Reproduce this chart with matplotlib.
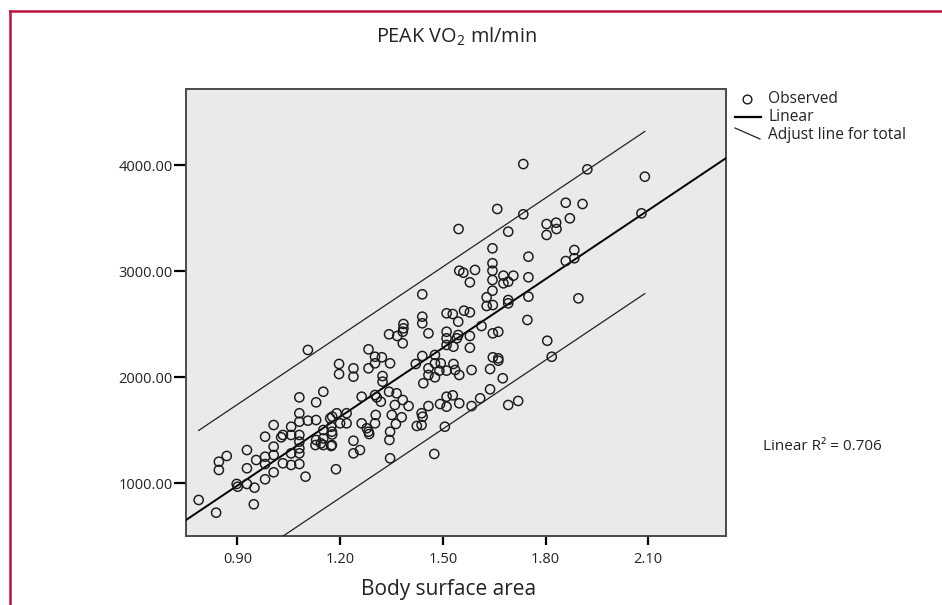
import matplotlib
matplotlib.use("Agg")
import matplotlib.pyplot as plt
from matplotlib.lines import Line2D
import numpy as np

plt.rcParams['font.family'] = ['Open Sans', 'DejaVu Sans']

# body surface area (m2) and peak VO2 (ml/min)
bsa = [
    1.106, 1.151, 1.081, 1.130, 1.081, 1.006, 1.057, 1.106, 1.130, 1.081,
    1.177, 1.033, 1.028, 0.981, 1.057, 1.081, 1.081, 1.081, 1.130, 1.151,
    1.174, 1.177, 1.144, 1.151, 1.174, 1.128, 1.006, 0.928, 0.869, 0.846,
    0.846, 0.955, 0.981, 1.006, 0.981, 1.033, 1.057, 1.081, 1.057, 1.081,
    0.928, 1.006, 0.981, 1.099, 0.898, 0.901, 0.928, 0.950, 0.948, 0.787,
    0.838, 1.188,
    1.548, 1.560, 1.594, 1.579, 1.440, 1.511, 1.529, 1.562, 1.579, 1.545,
    1.440, 1.440, 1.385, 1.385, 1.383, 1.343, 1.367, 1.383, 1.458, 1.511,
    1.511, 1.545, 1.541, 1.579, 1.531, 1.511, 1.579, 1.283, 1.302, 1.322,
    1.302, 1.346, 1.283, 1.197, 1.197, 1.239, 1.239, 1.324, 1.324, 1.440,
    1.421, 1.477, 1.458, 1.477, 1.494, 1.531, 1.458, 1.477, 1.490, 1.511,
    1.536, 1.548, 1.443, 1.263, 1.302, 1.307, 1.319, 1.343, 1.365, 1.383,
    1.400, 1.360, 1.351, 1.380, 1.363, 1.458, 1.438, 1.441, 1.492, 1.511,
    1.511, 1.529, 1.548, 1.424, 1.438, 1.506, 1.475, 1.346, 1.344, 1.346,
    1.304, 1.302, 1.278, 1.283, 1.285, 1.263, 1.239, 1.239, 1.258, 1.219,
    1.190, 1.171, 1.200, 1.219, 1.176, 1.151, 1.176,
    1.735, 1.922, 1.659, 1.546, 1.735, 1.859, 1.908, 2.080, 1.871, 1.803,
    1.831, 1.832, 1.803, 1.691, 1.645, 1.750, 1.884, 1.884, 1.859, 1.645,
    1.645, 1.645, 1.645, 1.677, 1.706, 1.677, 1.691, 1.750, 1.628, 1.691,
    1.750, 1.896,
    1.691, 1.628, 1.646, 1.747, 1.613, 1.646, 1.662, 1.805, 1.818, 1.646,
    1.662, 1.662, 1.638, 1.584, 1.675, 1.638, 1.609, 1.584, 1.691, 1.720,
    2.090,
]
vo2 = [
    2255, 1861, 1808, 1761, 1658, 1547, 1531, 1588, 1594, 1578,
    1626, 1453, 1431, 1437, 1453, 1453, 1390, 1327, 1406, 1500,
    1531, 1458, 1374, 1358, 1349, 1358, 1343, 1311, 1255, 1201,
    1123, 1217, 1248, 1264, 1179, 1186, 1170, 1179, 1280, 1280,
    1139, 1101, 1035, 1060, 991, 965, 991, 956, 799, 840,
    720, 1130,
    3003, 2984, 3010, 2893, 2780, 2601, 2594, 2626, 2610, 2522,
    2569, 2507, 2500, 2459, 2427, 2403, 2387, 2318, 2412, 2427,
    2365, 2396, 2365, 2387, 2286, 2302, 2276, 2261, 2191, 2186,
    2129, 2129, 2082, 2123, 2028, 2082, 2003, 2009, 1956, 2198,
    2123, 2208, 2082, 2129, 2129, 2123, 2019, 1997, 2060, 2060,
    2066, 2019, 1941, 1814, 1830, 1808, 1767, 1861, 1846, 1783,
    1726, 1736, 1642, 1620, 1557, 1726, 1658, 1625, 1745, 1720,
    1814, 1827, 1752, 1538, 1547, 1531, 1274, 1484, 1406, 1233,
    1642, 1563, 1516, 1484, 1462, 1563, 1399, 1280, 1311, 1658,
    1658, 1610, 1563, 1563, 1484, 1420, 1358,
    4009, 3959, 3585, 3396, 3535, 3644, 3632, 3544, 3497, 3443,
    3456, 3396, 3340, 3371, 3214, 3135, 3198, 3120, 3094, 3073,
    3003, 2915, 2814, 2956, 2956, 2884, 2899, 2941, 2752, 2726,
    2758, 2742,
    2695, 2670, 2679, 2538, 2481, 2412, 2427, 2342, 2191, 2186,
    2176, 2154, 2075, 2066, 1988, 1884, 1799, 1726, 1736, 1774,
    3890,
]

# fitted line and the band drawn either side of it
fit_intercept = -973
fit_slope = 2165
band = 765
r2_text = "Linear R\u00b2 = 0.706"

x_ticks = [0.90, 1.20, 1.50, 1.80, 2.10]
y_ticks = [1000, 2000, 3000, 4000]

bsa = np.array(bsa)
vo2 = np.array(vo2)

W, H = 942, 605
fig = plt.figure(figsize=(W / 100, H / 100), dpi=100)
ax = fig.add_axes([186 / W, 1 - 536 / H, 540 / W, 447 / H])
ax.set_facecolor('#e9eaec')

xlim = (0.75, 2.327)
ax.set_xlim(*xlim)
ax.set_ylim(500, 4717)

xs = np.array(xlim)
ax.plot(xs, fit_intercept + fit_slope * xs, color='black', lw=1.4, zorder=3)
xb = np.array([bsa.min(), bsa.max()])
ax.plot(xb, fit_intercept + fit_slope * xb + band, color='#222222', lw=0.9, zorder=3)
ax.plot(xb, fit_intercept + fit_slope * xb - band, color='#222222', lw=0.9, zorder=3)

ax.scatter(bsa, vo2, s=44, facecolors='none', edgecolors='#1a1a1a',
           linewidths=1.05, zorder=4)

ax.set_xticks(x_ticks)
ax.set_xticklabels([f"{v:.2f}" for v in x_ticks])
ax.set_yticks(y_ticks)
ax.set_yticklabels([f"{v:.2f}" for v in y_ticks])
ax.tick_params(axis='x', length=6.5, width=1.6, pad=5, labelsize=10.5,
               colors='black', labelcolor='#222222')
ax.tick_params(axis='y', length=8.5, width=1.6, pad=1, labelsize=10.5,
               colors='black', labelcolor='#222222')
for s in ax.spines.values():
    s.set_color('#4a4a4a')
    s.set_linewidth(1.4)

fig.text(456 / W, 1 - 37 / H, r"PEAK VO$_\mathregular{2}$ ml/min",
         ha='center', va='center', fontsize=14.3, color='#222222')
fig.text(449 / W, 1 - 590 / H, "Body surface area", ha='center',
         va='center', fontsize=15, color='#222222')
fig.text(763 / W, 1 - 446 / H, r2_text, ha='left', va='center',
         fontsize=11, color='#222222')

# legend drawn by hand so the last handle can slant
fig.add_artist(Line2D([747 / W], [1 - 99 / H], marker='o', ms=6.3,
                      mfc='none', mec='#1a1a1a', mew=1.0))
fig.add_artist(Line2D([735 / W, 761 / W], [1 - 117 / H, 1 - 117 / H],
                      color='black', lw=1.6))
fig.add_artist(Line2D([735 / W, 760 / W], [1 - 128 / H, 1 - 139 / H],
                      color='#222222', lw=0.9))
for lab, yy in [("Observed", 99), ("Linear", 117), ("Adjust line for total", 135)]:
    fig.text(768 / W, 1 - yy / H, lab, ha='left', va='center',
             fontsize=11.2, color='#222222')

# maroon frame on the left and top
fig.add_artist(Line2D([10 / W, 10 / W], [0, 1 - 11 / H], color='#c0103a', lw=1.8))
fig.add_artist(Line2D([10 / W, 1], [1 - 11 / H, 1 - 11 / H], color='#c0103a', lw=1.8))

fig.savefig('out.png', dpi=100)
